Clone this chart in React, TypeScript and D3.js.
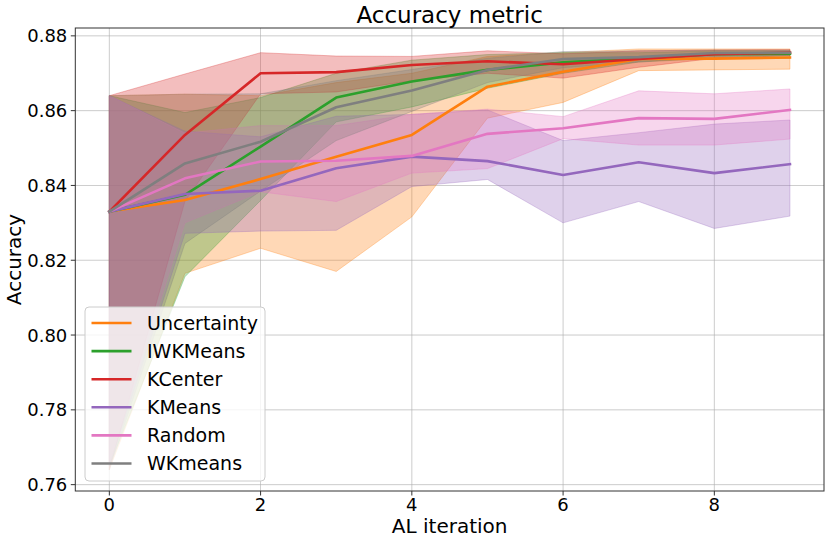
import React from "react";
import * as d3 from "d3";

// AL iterations on the x axis
const iterations = [0, 1, 2, 3, 4, 5, 6, 7, 8, 9];
const yTicks = [0.76, 0.78, 0.8, 0.82, 0.84, 0.86, 0.88];
const xTicks = [0, 2, 4, 6, 8];

// mean accuracy per strategy
const uncertaintyMean = [0.833, 0.8361, 0.8417, 0.8477, 0.8535, 0.8664, 0.8704, 0.8738, 0.8739, 0.8742];
const iwkmeansMean = [0.833, 0.8375, 0.8504, 0.8635, 0.8678, 0.8709, 0.8729, 0.874, 0.8751, 0.8752];
const kcenterMean = [0.833, 0.8535, 0.87, 0.8703, 0.8722, 0.8732, 0.8724, 0.8738, 0.8751, 0.8755];
const kmeansMean = [0.833, 0.8377, 0.8386, 0.8446, 0.8477, 0.8465, 0.8428, 0.8462, 0.8433, 0.8457];
const randomMean = [0.833, 0.8419, 0.8464, 0.8466, 0.8479, 0.8538, 0.8553, 0.858, 0.8578, 0.8602];
const wkmeansMean = [0.833, 0.8459, 0.8517, 0.8609, 0.8654, 0.8709, 0.8738, 0.8743, 0.8754, 0.8755];

// band edges
const uncertaintyLow = [0.764, 0.8165, 0.8232, 0.817, 0.8316, 0.858, 0.8622, 0.8707, 0.8709, 0.8711];
const uncertaintyHigh = [0.864, 0.8644, 0.864, 0.8675, 0.87, 0.8745, 0.8755, 0.8765, 0.8765, 0.8765];
const iwkmeansLow = [0.765, 0.8156, 0.836, 0.857, 0.861, 0.866, 0.87, 0.873, 0.874, 0.874];
const iwkmeansHigh = [0.864, 0.8595, 0.8635, 0.87, 0.8735, 0.875, 0.8755, 0.8755, 0.876, 0.876];
const kcenterLow = [0.764, 0.8358, 0.8645, 0.865, 0.868, 0.87, 0.8687, 0.8716, 0.874, 0.8747];
const kcenterHigh = [0.864, 0.8698, 0.8755, 0.8746, 0.8745, 0.876, 0.8752, 0.876, 0.8762, 0.8763];
const kmeansLow = [0.765, 0.8272, 0.8278, 0.828, 0.8397, 0.8416, 0.83, 0.8357, 0.8285, 0.8318];
const kmeansHigh = [0.864, 0.8545, 0.853, 0.8585, 0.859, 0.8602, 0.852, 0.8541, 0.8564, 0.8575];
const randomLow = [0.766, 0.83, 0.8383, 0.8357, 0.8433, 0.8445, 0.8525, 0.8508, 0.8508, 0.8524];
const randomHigh = [0.864, 0.854, 0.856, 0.856, 0.859, 0.8604, 0.8584, 0.8653, 0.8645, 0.8658];
const wkmeansLow = [0.764, 0.8245, 0.8385, 0.852, 0.8598, 0.8675, 0.8715, 0.873, 0.8745, 0.8748];
const wkmeansHigh = [0.864, 0.8644, 0.8645, 0.868, 0.871, 0.874, 0.8758, 0.876, 0.8762, 0.8762];

const series = [
  { name: "Uncertainty", color: "#ff7f0e", mean: uncertaintyMean, low: uncertaintyLow, high: uncertaintyHigh },
  { name: "IWKMeans", color: "#2ca02c", mean: iwkmeansMean, low: iwkmeansLow, high: iwkmeansHigh },
  { name: "KCenter", color: "#d62728", mean: kcenterMean, low: kcenterLow, high: kcenterHigh },
  { name: "KMeans", color: "#9467bd", mean: kmeansMean, low: kmeansLow, high: kmeansHigh },
  { name: "Random", color: "#e377c2", mean: randomMean, low: randomLow, high: randomHigh },
  { name: "WKmeans", color: "#7f7f7f", mean: wkmeansMean, low: wkmeansLow, high: wkmeansHigh },
];

const W = 830;
const H = 543;
const m = { left: 75.3, right: 824, top: 28, bottom: 491 };
const font = "DejaVu Sans, sans-serif";

export default function App() {
  const x = d3.scaleLinear().domain([-0.45, 9.45]).range([m.left, m.right]);
  const y = d3.scaleLinear().domain([0.7583, 0.8821]).range([m.bottom, m.top]);

  const area = (s: typeof series[number]) =>
    d3
      .area<number>()
      .x((d) => x(d))
      .y0((d) => y(s.low[d]))
      .y1((d) => y(s.high[d]))(iterations) || "";

  const line = (s: typeof series[number]) =>
    d3
      .line<number>()
      .x((d) => x(d))
      .y((d) => y(s.mean[d]))(iterations) || "";

  const legendX = 85;
  const legendY = 307;

  return (
    <svg
      width={W}
      height={H}
      style={{ position: "absolute", left: 0, top: 0, fontFamily: font }}
    >
      <rect width={W} height={H} fill="white" />
      <defs>
        <clipPath id="plot">
          <rect x={m.left} y={m.top} width={m.right - m.left} height={m.bottom - m.top} />
        </clipPath>
      </defs>

      {/* grid */}
      {yTicks.map((t) => (
        <line key={"gy" + t} x1={m.left} x2={m.right} y1={y(t)} y2={y(t)} stroke="#b0b0b0" strokeWidth={0.8} opacity={0.8} />
      ))}
      {xTicks.map((t) => (
        <line key={"gx" + t} x1={x(t)} x2={x(t)} y1={m.top} y2={m.bottom} stroke="#b0b0b0" strokeWidth={0.8} opacity={0.8} />
      ))}

      <g clipPath="url(#plot)">
        {series.map((s) => (
          <path key={"a" + s.name} d={area(s)} fill={s.color} fillOpacity={0.3} stroke={s.color} strokeOpacity={0.3} strokeWidth={1} />
        ))}
        {series.map((s) => (
          <path key={"l" + s.name} d={line(s)} fill="none" stroke={s.color} strokeWidth={2.6} strokeLinejoin="round" strokeLinecap="square" />
        ))}
      </g>

      {/* spines */}
      <rect x={m.left} y={m.top} width={m.right - m.left} height={m.bottom - m.top} fill="none" stroke="#333" strokeWidth={1} />

      {/* y ticks */}
      {yTicks.map((t) => (
        <g key={"ty" + t}>
          <line x1={m.left - 4.5} x2={m.left} y1={y(t)} y2={y(t)} stroke="#333" strokeWidth={1} />
          <text x={m.left - 8} y={y(t)} dy="0.36em" textAnchor="end" fontSize={18}>
            {t.toFixed(2)}
          </text>
        </g>
      ))}
      {/* x ticks */}
      {xTicks.map((t) => (
        <g key={"tx" + t}>
          <line x1={x(t)} x2={x(t)} y1={m.bottom} y2={m.bottom + 4.5} stroke="#333" strokeWidth={1} />
          <text x={x(t)} y={m.bottom + 20} textAnchor="middle" fontSize={18}>
            {t}
          </text>
        </g>
      ))}

      <text x={(m.left + m.right) / 2} y={23} textAnchor="middle" fontSize={23}>
        Accuracy metric
      </text>
      <text x={(m.left + m.right) / 2} y={533} textAnchor="middle" fontSize={20}>
        AL iteration
      </text>
      <text transform={`translate(21,${(m.top + m.bottom) / 2}) rotate(-90)`} textAnchor="middle" fontSize={20}>
        Accuracy
      </text>

      {/* legend */}
      <rect x={legendX} y={legendY} width={180} height={174} rx={4} fill="white" fillOpacity={0.8} stroke="#cccccc" strokeWidth={1} />
      {series.map((s, i) => (
        <g key={"lg" + s.name} transform={`translate(${legendX},${legendY + 16 + i * 28.1})`}>
          <line x1={6.5} x2={46.5} y1={0} y2={0} stroke={s.color} strokeWidth={2.6} />
          <text x={62} y={0} dy="0.36em" fontSize={19}>
            {s.name}
          </text>
        </g>
      ))}
    </svg>
  );
}
